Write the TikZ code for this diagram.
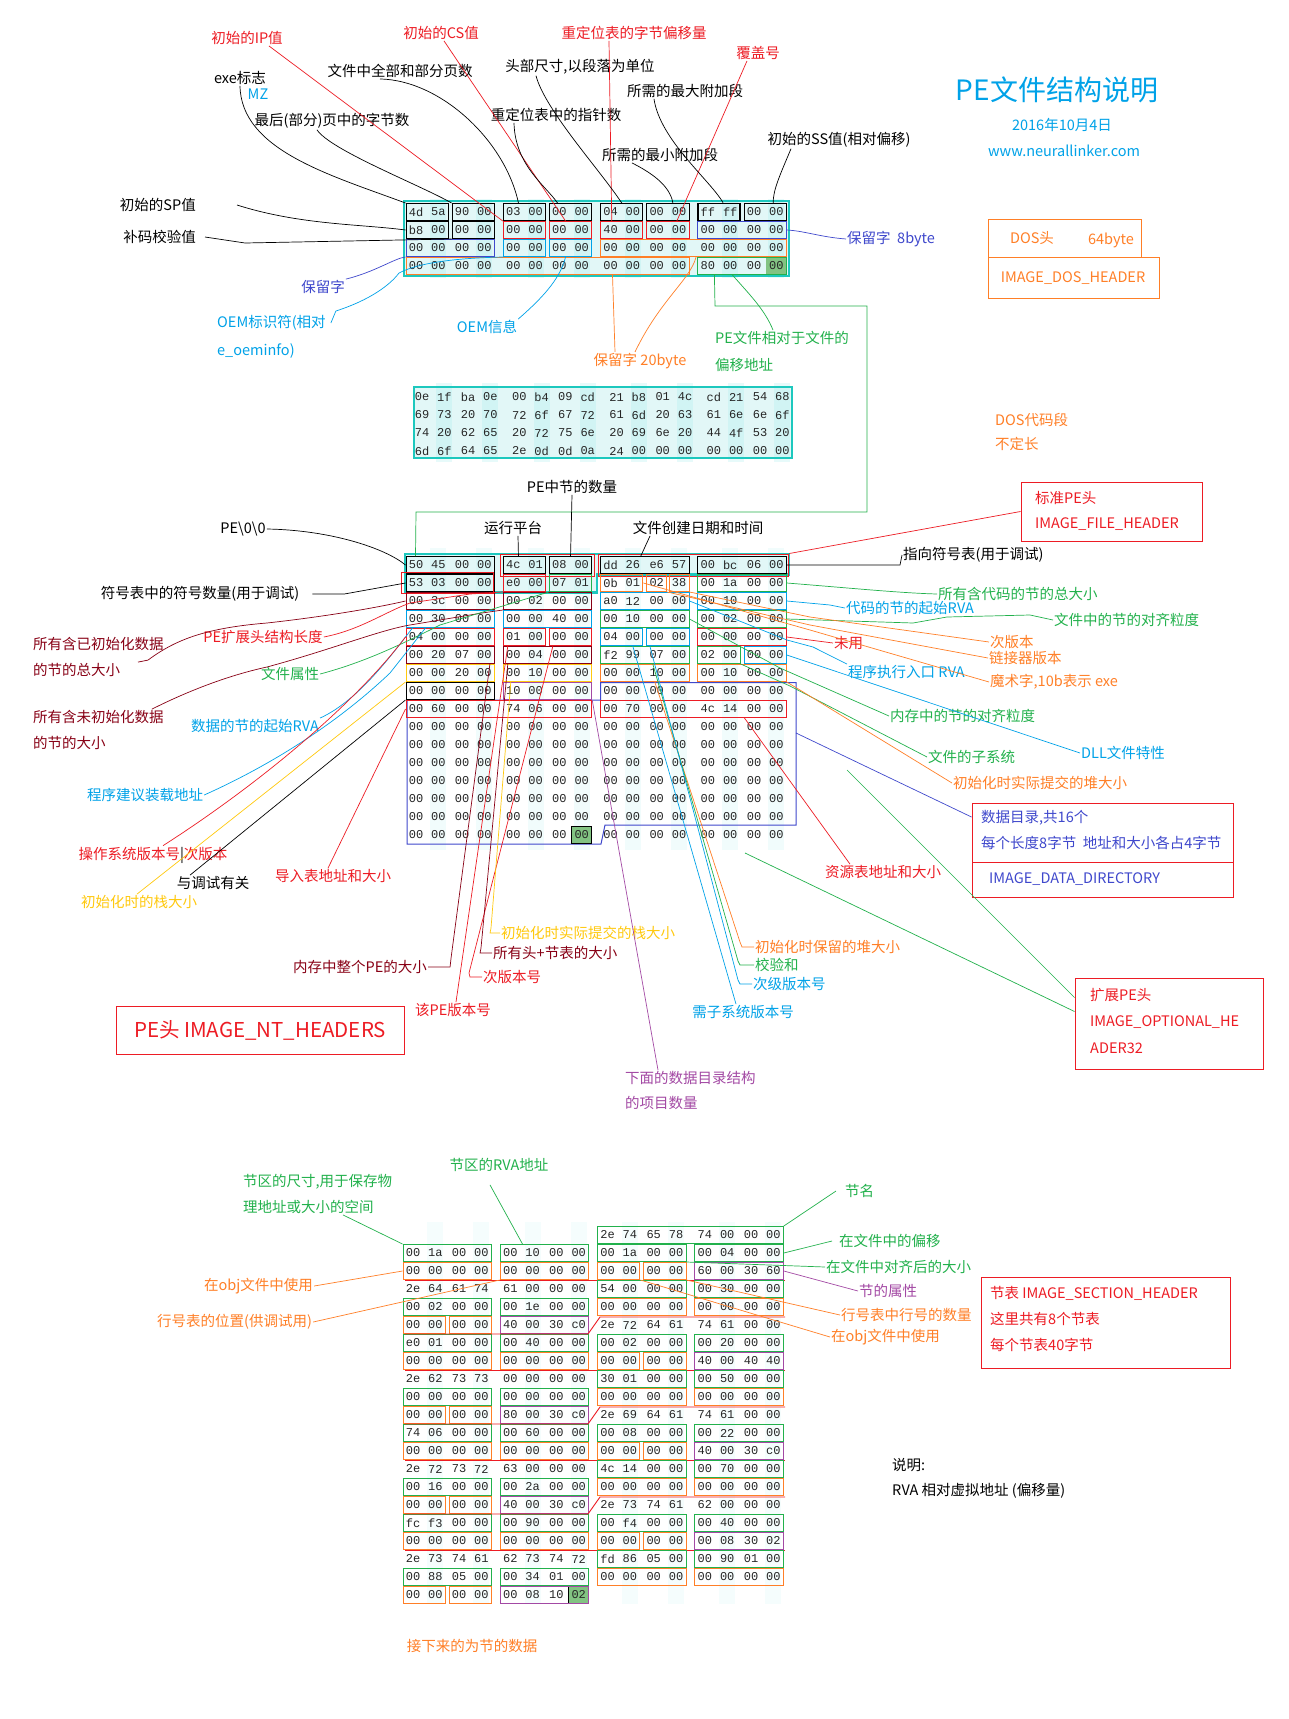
\documentclass[tikz,border=0pt]{standalone}
\usepackage{fontspec}
\setmainfont{Noto Sans CJK SC}
\newfontfamily\hexfont{Liberation Mono}
\usetikzlibrary{fit}
\definecolor{cR}{HTML}{ED1C24}
\definecolor{cG}{HTML}{22B14C}
\definecolor{cO}{HTML}{FF7F27}
\definecolor{cC}{HTML}{00A2E8}
\definecolor{cI}{HTML}{3F48CC}
\definecolor{cP}{HTML}{A349A4}
\definecolor{cM}{HTML}{880015}
\definecolor{cY}{HTML}{FFC90E}
\definecolor{cT}{HTML}{1DC8BE}
\definecolor{cyanbg}{HTML}{E2F7F7}
\definecolor{hlgreen}{HTML}{82C382}
\definecolor{stripec}{HTML}{96EBEB}
\tikzset{
  lab/.style={font=\fontsize{14.5}{17}\selectfont, inner sep=1pt},
  hext/.style={font=\hexfont\fontsize{12}{12}\selectfont, inner sep=0pt, text=black!85},
  lnK/.style={draw=black, line width=0.7pt},
  lnR/.style={draw=cR, line width=0.7pt},
  lnG/.style={draw=cG, line width=0.7pt},
  lnO/.style={draw=cO, line width=0.7pt},
  lnC/.style={draw=cC, line width=0.7pt},
  lnI/.style={draw=cI, line width=0.7pt},
  lnP/.style={draw=cP, line width=0.7pt},
  lnM/.style={draw=cM, line width=0.7pt},
  lnY/.style={draw=cY, line width=0.7pt},
  stripe/.style={fill=stripec, opacity=0.22},
  bigbox/.style={draw=cT, line width=2.4pt},
}
% hex row: id, X0, y, start index, list
\newcommand\hexrow[5]{%
  \foreach \hxb [count=\hxi from #4] in {#5}{%
    \pgfmathsetmacro\hxx{#2+97.3*floor(\hxi/4)+22.3*mod(\hxi,4)+1.5*(mod(\hxi,4)>1)}%
    \node[hext] (#1-\hxi) at (\hxx,#3) {\hxb};}}
% byte box: [opt] name, colour, X0, y, first byte, last byte
\newcommand\bb[7][]{%
  \pgfmathsetmacro\bxa{#4+97.3*floor(#6/4)+22.3*mod(#6,4)+1.5*(mod(#6,4)>1)-10}%
  \pgfmathsetmacro\bxb{#4+97.3*floor(#7/4)+22.3*mod(#7,4)+1.5*(mod(#7,4)>1)+10}%
  \node[fit={(\bxa,#5-8.5) (\bxb,#5+8.5)},inner sep=0pt,draw=#3,line width=1pt,#1] (#2) {};}
% stripes: X0, y1, y2, opacity
\newcommand\stripes[4]{%
  \foreach \sg in {0,1,2,3}{\foreach \so in {22.3,68.4}{%
    \fill[stripe,opacity=#4] ({#1+97.3*\sg+\so-8},#2) rectangle ({#1+97.3*\sg+\so+8},#3);}}}
\begin{document}
\begin{tikzpicture}[x=1pt,y=-1pt]
\useasboundingbox (0,0) rectangle (1289,1719);
\fill[white] (0,0) rectangle (1289,1719);

% ---------- block fills and stripes ----------
\fill[cyanbg] (404,201) rectangle (789,276);
\fill[cyanbg] (414,387) rectangle (792,458);
\fill[cyanbg] (405,554) -- (789,554) -- (789,574.5) -- (597,574.5) -- (597,592.5) -- (405,592.5) -- cycle;
\stripes{416}{199}{278}{0.22}
\stripes{422}{383}{462}{0.22}
\stripes{416}{548}{850}{0.13}
\stripes{413}{1222}{1604}{0.09}
\draw[bigbox] (404,201) rectangle (789,276);
\draw[bigbox] (414,387) rectangle (792,458);
\draw[bigbox] (405,554) -- (789,554) -- (789,574.5) -- (597,574.5) -- (597,592.5) -- (405,592.5) -- cycle;

% ---------- DOS header boxes ----------
\bb[fill=hlgreen]{d3c}{hlgreen}{416}{266}{15}{15}
\bb{d0a}{black}{416}{212}{0}{1}
\bb{d0b}{black}{416}{212}{2}{3}
\bb{d0c}{black}{416}{212}{4}{5}
\bb{d0d}{black}{416}{212}{6}{7}
\bb{d0e}{black}{416}{212}{8}{9}
\bb{d0f}{black}{416}{212}{10}{11}
\bb[line width=1.6pt]{d0g}{black}{416}{212}{12}{13}
\bb{d0h}{black}{416}{212}{14}{15}
\bb{d1a}{black}{416}{230}{0}{1}
\bb{d1b}{black}{416}{230}{2}{3}
\bb{d1c}{cR}{416}{230}{4}{5}
\bb{d1d}{cR}{416}{230}{6}{7}
\bb{d1e}{cR}{416}{230}{8}{9}
\bb{d1f}{cR}{416}{230}{10}{11}
\bb{d1g}{cI}{416}{230}{12}{15}
\bb{d2a}{cI}{416}{248}{0}{3}
\bb{d2b}{cC}{416}{248}{4}{5}
\bb{d2c}{cC}{416}{248}{6}{7}
\bb{d2d}{cO}{416}{248}{8}{15}
\bb{d3a}{cO}{416}{266}{0}{11}
\bb{d3b}{cG}{416}{266}{12}{15}

\hexrow{dh0}{416}{212}{0}{4d,5a,90,00,03,00,00,00,04,00,00,00,ff,ff,00,00}
\hexrow{dh1}{416}{230}{0}{b8,00,00,00,00,00,00,00,40,00,00,00,00,00,00,00}
\hexrow{dh2}{416}{248}{0}{00,00,00,00,00,00,00,00,00,00,00,00,00,00,00,00}
\hexrow{dh3}{416}{266}{0}{00,00,00,00,00,00,00,00,00,00,00,00,80,00,00,00}

% ---------- DOS stub ----------
\hexrow{ds0}{422}{397}{0}{0e,1f,ba,0e,00,b4,09,cd,21,b8,01,4c,cd,21,54,68}
\hexrow{ds1}{422}{415}{0}{69,73,20,70,72,6f,67,72,61,6d,20,63,61,6e,6e,6f}
\hexrow{ds2}{422}{433}{0}{74,20,62,65,20,72,75,6e,20,69,6e,20,44,4f,53,20}
\hexrow{ds3}{422}{451}{0}{6d,6f,64,65,2e,0d,0d,0a,24,00,00,00,00,00,00,00}

% ---------- PE header boxes ----------
\draw[cI, line width=1pt] (600.5,682.5) -- (796,682.5) -- (796,825) -- (605,825) -- (601,844) -- (407,844) -- (407,700) -- (600.5,700) -- cycle;
\bb[fill=hlgreen]{pelast}{black}{416}{835}{7}{7}
\bb{p0a}{black}{416}{565}{0}{3}
\bb{p0b}{black}{416}{565}{4}{5}
\bb{p0c}{black}{416}{565}{6}{7}
\bb{p0d}{black}{416}{565}{8}{11}
\bb{p0e}{black}{416}{565}{12}{15}
\bb[inner sep=2.5pt]{p0r1}{cR}{416}{565}{4}{7}
\bb[inner sep=2.5pt]{p0r2}{cR}{416}{565}{8}{15}
\bb{p1a}{black}{416}{583}{0}{3}
\bb[inner sep=2pt]{p1ar}{cR}{413}{583}{0}{3}
\bb{p1b}{cR}{416}{583}{4}{5}
\bb{p1c}{cG}{416}{583}{6}{7}
\bb{p1d}{cO}{416}{583}{8}{9}
\bb{p1e}{cO}{416}{583}{10}{10}
\bb{p1f}{cO}{416}{583}{11}{11}
\bb{p1g}{cG}{416}{583}{12}{15}
\bb{p2a}{cM}{416}{601}{0}{3}
\bb{p2b}{cM}{416}{601}{4}{7}
\bb{p2c}{cC}{416}{601}{8}{11}
\bb{p2d}{cC}{416}{601}{12}{15}
\bb{p3a}{cC}{416}{619}{0}{3}
\bb{p3b}{cC}{416}{619}{4}{7}
\bb{p3c}{cG}{416}{619}{8}{11}
\bb{p3d}{cG}{416}{619}{12}{15}
\bb{p4a}{cR}{416}{637}{0}{3}
\bb{p4b}{cR}{416}{637}{4}{5}
\bb{p4c}{cR}{416}{637}{6}{7}
\bb{p4d}{cC}{416}{637}{8}{9}
\bb{p4e}{cC}{416}{637}{10}{11}
\bb{p4f}{cR}{416}{637}{12}{15}
\bb{p5a}{cM}{416}{655}{0}{3}
\bb{p5b}{cM}{416}{655}{4}{7}
\bb{p5c}{cG}{416}{655}{8}{11}
\bb{p5d}{cG}{416}{655}{12}{13}
\bb{p5e}{cC}{416}{655}{14}{15}
\bb{p6a}{cY}{416}{673}{0}{3}
\bb{p6b}{cY}{416}{673}{4}{7}
\bb{p6c}{cO}{416}{673}{8}{11}
\bb{p6d}{cO}{416}{673}{12}{15}
\bb{p7a}{black}{416}{691}{0}{3}
\bb{p7b}{cP}{416}{691}{4}{7}
\bb{p8a}{cR}{416}{709}{0}{7}
\bb{p8b}{cR}{416}{709}{8}{15}

\hexrow{ph0}{416}{565}{0}{50,45,00,00,4c,01,08,00,dd,26,e6,57,00,bc,06,00}
\hexrow{ph1}{416}{583}{0}{53,03,00,00,e0,00,07,01,0b,01,02,38,00,1a,00,00}
\hexrow{ph2}{416}{601}{0}{00,3c,00,00,00,02,00,00,a0,12,00,00,00,10,00,00}
\hexrow{ph3}{416}{619}{0}{00,30,00,00,00,00,40,00,00,10,00,00,00,02,00,00}
\hexrow{ph4}{416}{637}{0}{04,00,00,00,01,00,00,00,04,00,00,00,00,00,00,00}
\hexrow{ph5}{416}{655}{0}{00,20,07,00,00,04,00,00,f2,99,07,00,02,00,00,00}
\hexrow{ph6}{416}{673}{0}{00,00,20,00,00,10,00,00,00,00,10,00,00,10,00,00}
\hexrow{ph7}{416}{691}{0}{00,00,00,00,10,00,00,00,00,00,00,00,00,00,00,00}
\hexrow{ph8}{416}{709}{0}{00,60,00,00,74,06,00,00,00,70,00,00,4c,14,00,00}
\foreach \rr in {9,...,15}{%
  \pgfmathsetmacro\ry{565+18*\rr}
  \hexrow{ph\rr}{416}{\ry}{0}{00,00,00,00,00,00,00,00,00,00,00,00,00,00,00,00}}

% ---------- section table ----------
\bb[fill=hlgreen]{slast}{black}{413}{1595}{7}{7}
\bb{s0name}{cG}{413}{1235}{8}{15}
\foreach \r [count=\k] in {0,5,10,15}{%
  \pgfmathsetmacro\ya{1235+18*(\r+1)}%
  \pgfmathsetmacro\yb{1235+18*(\r+2)}%
  \bb{sA\k-1a}{cG}{413}{\ya}{0}{3}
  \bb{sA\k-1b}{cG}{413}{\ya}{4}{7}
  \bb{sA\k-1c}{cG}{413}{\ya}{8}{11}
  \bb{sA\k-1d}{cG}{413}{\ya}{12}{15}
  \bb{sA\k-2a}{cO}{413}{\yb}{0}{3}
  \bb{sA\k-2b}{cO}{413}{\yb}{4}{7}
  \bb{sA\k-2c}{cO}{413}{\yb}{8}{9}
  \bb{sA\k-2d}{cO}{413}{\yb}{10}{11}
  \bb{sA\k-2e}{cP}{413}{\yb}{12}{15}
  \pgfmathsetmacro\yc{\yb+9}%
  \draw[cR, line width=0.9pt] (405,\yc) -- (785,\yc);
}
\foreach \r [count=\k] in {3,8,13,18}{%
  \pgfmathsetmacro\ya{1235+18*\r}%
  \pgfmathsetmacro\yb{1235+18*(\r+1)}%
  \pgfmathsetmacro\yc{1235+18*(\r+2)}%
  \bb{sB\k-0a}{cG}{413}{\ya}{8}{11}
  \bb{sB\k-0b}{cG}{413}{\ya}{12}{15}
  \bb{sB\k-1a}{cG}{413}{\yb}{0}{3}
  \bb{sB\k-1b}{cG}{413}{\yb}{4}{7}
  \bb{sB\k-1c}{cO}{413}{\yb}{8}{11}
  \bb{sB\k-1d}{cO}{413}{\yb}{12}{15}
  \bb{sB\k-2a}{cO}{413}{\yc}{0}{1}
  \bb{sB\k-2b}{cO}{413}{\yc}{2}{3}
  \bb{sB\k-2c}{cP}{413}{\yc}{4}{7}
}
\foreach \yl in {1334,1424,1514}{%
  \draw[cR, line width=0.9pt] (405,\yl) -- (588,\yl) -- (600,\yl-17) -- (785,\yl-17);}

\hexrow{sr0}{413}{1235}{8}{2e,74,65,78,74,00,00,00}
\hexrow{sr1}{413}{1253}{0}{00,1a,00,00,00,10,00,00,00,1a,00,00,00,04,00,00}
\hexrow{sr2}{413}{1271}{0}{00,00,00,00,00,00,00,00,00,00,00,00,60,00,30,60}
\hexrow{sr3}{413}{1289}{0}{2e,64,61,74,61,00,00,00,54,00,00,00,00,30,00,00}
\hexrow{sr4}{413}{1307}{0}{00,02,00,00,00,1e,00,00,00,00,00,00,00,00,00,00}
\hexrow{sr5}{413}{1325}{0}{00,00,00,00,40,00,30,c0,2e,72,64,61,74,61,00,00}
\hexrow{sr6}{413}{1343}{0}{e0,01,00,00,00,40,00,00,00,02,00,00,00,20,00,00}
\hexrow{sr7}{413}{1361}{0}{00,00,00,00,00,00,00,00,00,00,00,00,40,00,40,40}
\hexrow{sr8}{413}{1379}{0}{2e,62,73,73,00,00,00,00,30,01,00,00,00,50,00,00}
\hexrow{sr9}{413}{1397}{0}{00,00,00,00,00,00,00,00,00,00,00,00,00,00,00,00}
\hexrow{sr10}{413}{1415}{0}{00,00,00,00,80,00,30,c0,2e,69,64,61,74,61,00,00}
\hexrow{sr11}{413}{1433}{0}{74,06,00,00,00,60,00,00,00,08,00,00,00,22,00,00}
\hexrow{sr12}{413}{1451}{0}{00,00,00,00,00,00,00,00,00,00,00,00,40,00,30,c0}
\hexrow{sr13}{413}{1469}{0}{2e,72,73,72,63,00,00,00,4c,14,00,00,00,70,00,00}
\hexrow{sr14}{413}{1487}{0}{00,16,00,00,00,2a,00,00,00,00,00,00,00,00,00,00}
\hexrow{sr15}{413}{1505}{0}{00,00,00,00,40,00,30,c0,2e,73,74,61,62,00,00,00}
\hexrow{sr16}{413}{1523}{0}{fc,f3,00,00,00,90,00,00,00,f4,00,00,00,40,00,00}
\hexrow{sr17}{413}{1541}{0}{00,00,00,00,00,00,00,00,00,00,00,00,00,08,30,02}
\hexrow{sr18}{413}{1559}{0}{2e,73,74,61,62,73,74,72,fd,86,05,00,00,90,01,00}
\hexrow{sr19}{413}{1577}{0}{00,88,05,00,00,34,01,00,00,00,00,00,00,00,00,00}
\hexrow{sr20}{413}{1595}{0}{00,00,00,00,00,08,10,02}

% ---------- top labels ----------
\node[lab,text=cR] (ip) at (247,38) {初始的IP值};
\node[lab,text=cR] (cs) at (441,33) {初始的CS值};
\node[lab,text=cR] (relofs) at (634,33) {重定位表的字节偏移量};
\node[lab,text=cR] (ovl) at (758,53) {覆盖号};
\node[lab] (exe) at (240,78) {exe标志};
\node[lab,text=cC] (mz) at (258,94) {MZ};
\node[lab] (pages) at (400,71) {文件中全部和部分页数};
\node[lab] (hdr) at (580,67) {头部尺寸,以段落为单位};
\node[lab] (maxal) at (685,91) {所需的最大附加段};
\node[lab] (lastp) at (332,121) {最后(部分)页中的字节数};
\node[lab] (nrel) at (556,115) {重定位表中的指针数};
\node[lab] (minal) at (660,155) {所需的最小附加段};
\node[lab] (ss) at (839,140) {初始的SS值(相对偏移)};
\node[lab,text=cC,font=\fontsize{28}{32}\selectfont] (title) at (1057,90) {PE文件结构说明};
\node[lab,text=cC] (date) at (1062,125) {2016年10月4日};
\node[lab,text=cC] (url) at (1064,151) {www.neurallinker.com};
\node[lab,anchor=east] (sp) at (197,205) {初始的SP值};
\node[lab,anchor=east] (csum) at (197,237) {补码校验值};
\node[lab,text=cI,anchor=west] (res8) at (846,239) {保留字\ \ 8byte};
\node[lab,text=cI] (res) at (323,287) {保留字};
\node[lab,text=cC,anchor=west] (oemid) at (216,323) {OEM标识符(相对};
\node[lab,text=cC,anchor=west] (oemid2) at (216,351) {e\_oeminfo)};
\node[lab,text=cC] (oeminfo) at (487,327) {OEM信息};
\node[lab,text=cO] (res20) at (640,361) {保留字 20byte};
\node[lab,text=cG,anchor=west] (lfanew) at (714,338) {PE文件相对于文件的};
\node[lab,text=cG,anchor=west] (lfanew2) at (714,365) {偏移地址};
\node[draw=cO,line width=1pt,fit={(988,219) (1141,257)},inner sep=0pt] (dosbox) {};
\node[lab,text=cO] (dosh) at (1032,238) {DOS头};
\node[lab,text=cO] (dos64) at (1111,240) {64byte};
\node[draw=cO,line width=1pt,fit={(988,257) (1159,298)},inner sep=0pt] (dosbox2) {};
\node[lab,text=cO] (doshn) at (1073,278) {IMAGE\_DOS\_HEADER};
\node[lab,text=cO,anchor=west] (doscode) at (994,420) {DOS代码段};
\node[lab,text=cO,anchor=west] (doscode2) at (994,444) {不定长};

% ---------- top connectors ----------
\draw[lnR] ([xshift=-15]ip.south east) -- (d1c.north west);
\draw[lnR] ([xshift=3]cs.south) -- ([xshift=-5]d1d.north);
\draw[lnR] ([xshift=-25]relofs.south) -- ([xshift=-10]d1e.north);
\draw[lnR] ([xshift=-11]ovl.south) -- ([xshift=9]d1f.north);
\draw[lnK] (exe.south) .. controls (241,150) and (330,175) .. (d0a.north west);
\draw[lnK] ([xshift=-15]lastp.south) .. controls (330,150) and (420,185) .. (d0b.north west);
\draw[lnK] ([xshift=-20]pages.south) .. controls (440,80) and (505,140) .. ([xshift=-6]d0c.north);
\draw[lnK] ([xshift=-44]hdr.south) .. controls (545,110) and (600,170) .. (d0e.north);
\draw[lnK] ([xshift=-42]nrel.south) .. controls (515,165) and (545,185) .. ([xshift=-13]d0d.north);
\draw[lnK] ([xshift=-31]maxal.south) .. controls (660,140) and (710,180) .. ([xshift=4]d0g.north);
\draw[lnK] ([xshift=-28]minal.south) .. controls (650,172) and (670,185) .. ([xshift=5]d0f.north);
\draw[lnK] ([xshift=-48]ss.south) .. controls (780,175) and (773,190) .. ([xshift=8]d0h.north);
\draw[lnK] ([xshift=40]sp.east) .. controls (300,225) and (360,224) .. (d1a.west);
\draw[lnK] ([xshift=8]csum.east) -- (245,243) -- (d1b.south west);
\draw[lnI] (d1g.east) .. controls (805,231) and (820,237) .. (res8.west);
\draw[lnI] (res.north east) .. controls (375,272) and (395,258) .. (d2a.south west);
\draw[lnC] ([xshift=4]oemid.east) -- ++(5,-12) .. controls (370,300) and (390,285) .. (399,273) .. controls (420,262) and (460,258) .. (d2b.south west);
\draw[lnC] (oeminfo.north east) .. controls (540,300) and (560,280) .. ([xshift=-5]d2c.south);
\draw[lnO] ([xshift=-77]d3a.south east) -- ([xshift=-25]res20.north);
\draw[lnO] ([xshift=-5]res20.north) .. controls (660,300) and (690,280) .. ([xshift=96]d2d.south west);
\draw[lnG] ([xshift=17]d3b.south west) -- (715,306) -- (867,306) -- (867,512) -- (416,512) -- ([xshift=10]p0a.north west);
\draw[lnG] ([xshift=35]d3b.south west) .. controls (750,295) and (765,310) .. ([xshift=59]lfanew.north west);

% ---------- PE labels ----------
\node[lab] (nsec) at (572,487) {PE中节的数量};
\node[lab] (pesig) at (243,529) {PE\textbackslash 0\textbackslash 0};
\node[lab] (platform) at (513,528) {运行平台};
\node[lab] (ctime) at (698,528) {文件创建日期和时间};
\node[draw=cR,line width=1pt,fit={(1021,482) (1202,541)},inner sep=0pt] (fhbox) {};
\node[lab,text=cR,anchor=west] (fh1) at (1034,498) {标准PE头};
\node[lab,text=cR,anchor=west] (fh2) at (1034,524) {IMAGE\_FILE\_HEADER};
\node[lab,anchor=west] (symptr) at (902,555) {指向符号表(用于调试)};
\node[lab] (nsym) at (200,594) {符号表中的符号数量(用于调试)};
\node[lab,text=cG,anchor=west] (codesz) at (937,594) {所有含代码的节的总大小};
\node[lab,text=cC,anchor=west] (basecode) at (845,608) {代码的节的起始RVA};
\node[lab,text=cG,anchor=west] (falign) at (1053,620) {文件中的节的对齐粒度};
\node[lab,text=cM,anchor=west] (init1) at (32,644) {所有含已初始化数据};
\node[lab,text=cM,anchor=west] (init2) at (32,670) {的节的总大小};
\node[lab,text=cR] (optsz) at (263,637) {PE扩展头结构长度};
\node[lab,text=cR,anchor=west] (unused) at (833,643) {未用};
\node[lab,text=cO,anchor=west] (minlink) at (989,642) {次版本};
\node[lab,text=cO,anchor=west] (linker) at (988,658) {链接器版本};
\node[lab,text=cG] (attr) at (290,674) {文件属性};
\node[lab,text=cC,anchor=west] (entry) at (847,672) {程序执行入口 RVA};
\node[lab,text=cO,anchor=west] (magic) at (989,682) {魔术字,10b表示 exe};
\node[lab,text=cM,anchor=west] (uninit1) at (32,717) {所有含未初始化数据};
\node[lab,text=cM,anchor=west] (uninit2) at (32,743) {的节的大小};
\node[lab,text=cC] (bdata) at (255,726) {数据的节的起始RVA};
\node[lab,text=cG,anchor=west] (salign) at (889,716) {内存中的节的对齐粒度};
\node[lab,text=cG,anchor=west] (subsys) at (927,757) {文件的子系统};
\node[lab,text=cC,anchor=west] (dll) at (1080,753) {DLL文件特性};
\node[lab,text=cO,anchor=west] (heapcom) at (952,783) {初始化时实际提交的堆大小};
\node[draw=cR,line width=1pt,fit={(972,803) (1233,897)},inner sep=0pt] (ddbox) {};
\draw[cR, line width=1pt] (972,862) -- (1233,862);
\node[lab,text=cI,anchor=west] (dd1) at (980,818) {数据目录,共16个};
\node[lab,text=cI,anchor=west] (dd2) at (980,843) {每个长度8字节\ \ 地址和大小各占4字节};
\node[lab,text=cI,anchor=west] (dd3) at (988,879) {IMAGE\_DATA\_DIRECTORY};
\node[lab,text=cC] (ibase) at (145,795) {程序建议装载地址};
\node[lab,text=cR] (osver) at (153,855) {操作系统版本号\textcolor{black}{|}次版本};
\node[lab] (debug) at (213,883) {与调试有关};
\node[lab,text=cR] (import) at (333,876) {导入表地址和大小};
\node[lab,text=cY] (stackres) at (139,902) {初始化时的栈大小};
\node[lab,text=cR] (rsrc) at (883,872) {资源表地址和大小};
\node[draw=cR,line width=1pt,fit={(1075,978) (1263,1069)},inner sep=0pt] (optbox) {};
\node[lab,text=cR,anchor=west] (op1) at (1089,995) {扩展PE头};
\node[lab,text=cR,anchor=west] (op2) at (1089,1022) {IMAGE\_OPTIONAL\_HE};
\node[lab,text=cR,anchor=west] (op3) at (1089,1048) {ADER32};
\node[lab,text=cY,anchor=west] (stackcom) at (500,933) {初始化时实际提交的栈大小};
\node[lab,text=cM,anchor=west] (sohdr) at (492,953) {所有头+节表的大小};
\node[lab,text=cM] (imgsize) at (360,967) {内存中整个PE的大小};
\node[lab,text=cR,anchor=west] (minver) at (482,977) {次版本号};
\node[lab,text=cR] (pever) at (453,1010) {该PE版本号};
\node[draw=cR,line width=1pt,fit={(116,1006) (404,1054)},inner sep=0pt] (ntbox) {};
\node[lab,text=cR,font=\fontsize{20.5}{23}\selectfont] (nttext) at (260,1030) {PE头 IMAGE\_NT\_HEADERS};
\node[lab,text=cO,anchor=west] (heapres) at (754,947) {初始化时保留的堆大小};
\node[lab,text=cG,anchor=west] (chk) at (754,965) {校验和};
\node[lab,text=cC,anchor=west] (minsub) at (752,984) {次级版本号};
\node[lab,text=cC] (majsub) at (743,1012) {需子系统版本号};
\node[lab,text=cP,anchor=west] (ndir1) at (624,1078) {下面的数据目录结构};
\node[lab,text=cP,anchor=west] (ndir2) at (624,1103) {的项目数量};

% ---------- PE connectors ----------
\draw[lnK] (pesig.east) .. controls (330,530) and (385,548) .. (p0a.west);
\draw[lnK] (nsec.south) -- (p0c.north);
\draw[lnK] ([xshift=5]platform.south) -- ([xshift=-6]p0b.north);
\draw[lnK] ([xshift=-48]ctime.south) -- ([xshift=-4]p0d.north);
\draw[lnK] ([xshift=12]nsym.east) -- ++(32,0) -- (p1a.west);
\draw[lnK] (symptr.west) -- ++(-2,10) -- (p0e.east);
\draw[lnR] (fhbox.west) -- (p0r2.north east);
\draw[lnM] ([xshift=106]init2.north west) -- ++(10,-2) .. controls (175,640) and (205,628) .. (267,623) .. controls (330,616) and (380,607) .. (p2a.west);
\draw[lnM] ([xshift=120]uninit1.north west) .. controls (190,690) and (230,675) .. (267,667) .. controls (330,650) and (380,630) .. (410,625) -- (482,613) -- (p2b.south west);
\draw[lnR] (optsz.east) .. controls (360,630) and (385,612) .. (410,603) -- (470,594) -- (p1b.south west);
\draw[lnG] (attr.east) .. controls (365,662) and (400,645) .. (440,625) -- (p1c.south west);
\draw[lnC] (bdata.north east) .. controls (360,700) and (395,650) .. ([xshift=7]p3a.south west);
\draw[lnC] (ibase.east) .. controls (260,770) and (330,730) .. (390,673) -- ([xshift=20]p3a.south west);
\draw[lnR] ([xshift=10]osver.north) .. controls (250,790) and (350,710) .. (p4a.west);
\draw[lnK] ([xshift=-23]debug.north) -- (p7a.south west);
\draw[lnY] ([xshift=-2]stackres.north) -- (p6a.south west);
\draw[lnR] ([xshift=-5]import.north) -- (p8a.west);
\draw[lnM] (imgsize.east) -- ++(22,0) -- ++(1,-9) -- ([xshift=-5]p5a.south east);
\draw[lnR] ([xshift=3]pever.north) -- ([xshift=5]p4b.south west);
\draw[lnR] (minver.west) -- ++(-12,0) -- ++(-1,-4) -- ([xshift=4]p4c.south west);
\draw[lnM] (sohdr.west) -- ++(-12,0) -- ++(1,-5) -- ([xshift=5]p5b.south west);
\draw[lnY] (stackcom.west) -- ++(-10,0) -- ++(1,-5) -- ([xshift=8]p6b.south west);
\draw[lnP] ([xshift=34]ndir1.north west) -- (p7b.south east);
\draw[lnR] ([xshift=-33]rsrc.north) -- ([xshift=51]p8b.south);
\draw[lnO] (heapres.west) -- ++(-12,0) -- ++(-2,-5) -- ([xshift=10]p6c.south);
\draw[lnG] (chk.west) -- ++(-14,0) -- ++(-2,-4) -- ([xshift=8]p5c.south);
\draw[lnC] (minsub.west) -- ++(-12,0) -- ++(-2,-4) -- ([xshift=-18]p4e.south);
\draw[lnC] ([xshift=-7]majsub.north) -- ([xshift=11]p4d.south);
\draw[lnG] (p1g.east) .. controls (850,588) and (900,593) .. (codesz.west);
\draw[lnC] (p2d.east) -- (830,605) -- (basecode.west);
\draw[lnG] (p3d.east) -- (913,623) -- (947,617) -- (1030,615) -- (falign.west);
\draw[lnO] (p1f.south east) -- (810,617) -- (minlink.west);
\draw[lnO] (p1e.south east) -- (810,625) -- (linker.west);
\draw[lnO] (p1d.east) -- (810,630) -- (magic.west);
\draw[lnR] (p4f.east) -- (unused.west);
\draw[lnC] (p2c.east) -- (787,640) -- (813,647) -- (entry.north west);
\draw[lnG] (p3c.east) -- (780,668) -- (salign.west);
\draw[lnC] (p5e.east) -- (dll.west);
\draw[lnG] (p5d.south east) -- (790,686) -- (subsys.west);
\draw[lnO] (p6d.south east) -- (heapcom.west);
\coordinate (ddr) at (796,733);
\draw[lnI] (ddr) -- ([yshift=33]ddbox.west);
\coordinate (gfree1) at (847,770);
\coordinate (gfree2) at (745,853);
\draw[lnG] (gfree1) -- ([yshift=26]optbox.west);
\draw[lnG] (gfree2) -- ([yshift=12]optbox.west);

% ---------- section labels ----------
\node[lab,text=cG,anchor=west] (vsz1) at (242,1182) {节区的尺寸,用于保存物};
\node[lab,text=cG,anchor=west] (vsz2) at (242,1207) {理地址或大小的空间};
\node[lab,text=cG] (rva) at (499,1165) {节区的RVA地址};
\node[lab,text=cG,anchor=west] (secname) at (844,1191) {节名};
\node[lab,text=cG,anchor=west] (rawptr) at (838,1241) {在文件中的偏移};
\node[lab,text=cG,anchor=west] (rawsize) at (825,1267) {在文件中对齐后的大小};
\node[lab,text=cP,anchor=west] (secattr) at (858,1291) {节的属性};
\node[lab,text=cO,anchor=west] (linecnt) at (840,1315) {行号表中行号的数量};
\node[lab,text=cO,anchor=west] (obj2) at (830,1337) {在obj文件中使用};
\node[lab,text=cO,anchor=west] (obj1) at (203,1286) {在obj文件中使用};
\node[lab,text=cO,anchor=west] (linepos) at (156,1322) {行号表的位置(供调试用)};
\node[draw=cR,line width=1pt,fit={(981,1277) (1230,1368)},inner sep=0pt] (shbox) {};
\node[lab,text=cR,anchor=west] (sh1) at (989,1293) {节表 IMAGE\_SECTION\_HEADER};
\node[lab,text=cR,anchor=west] (sh2) at (989,1319) {这里共有8个节表};
\node[lab,text=cR,anchor=west] (sh3) at (989,1345) {每个节表40字节};
\node[lab,anchor=west] (note1) at (891,1465) {说明:};
\node[lab,anchor=west] (note2) at (891,1491) {RVA 相对虚拟地址 (偏移量)};
\node[lab,text=cO] (nextdata) at (472,1646) {接下来的为节的数据};

% ---------- section connectors ----------
\draw[lnG] ([xshift=101]vsz2.south west) -- (sA1-1a.north west);
\draw[lnG] ([xshift=-9,yshift=-12]rva.south) -- ([xshift=-22]sA1-1b.north);
\draw[lnG] ([xshift=-8]secname.west) -- (s0name.north east);
\draw[lnG] ([xshift=-6]rawptr.west) -- (sA1-1d.east);
\draw[lnG] (sA1-1c.south east) -- (rawsize.west);
\draw[lnP] (sA1-2e.east) -- (secattr.west);
\draw[lnO] (sA1-2d.south east) -- (linecnt.west);
\draw[lnO] (sA1-2c.south east) -- (obj2.west);
\draw[lnO] (obj1.east) -- (sA1-2a.west);
\draw[lnO] (linepos.east) -- (sA1-2b.south west);
\end{tikzpicture}
\end{document}
